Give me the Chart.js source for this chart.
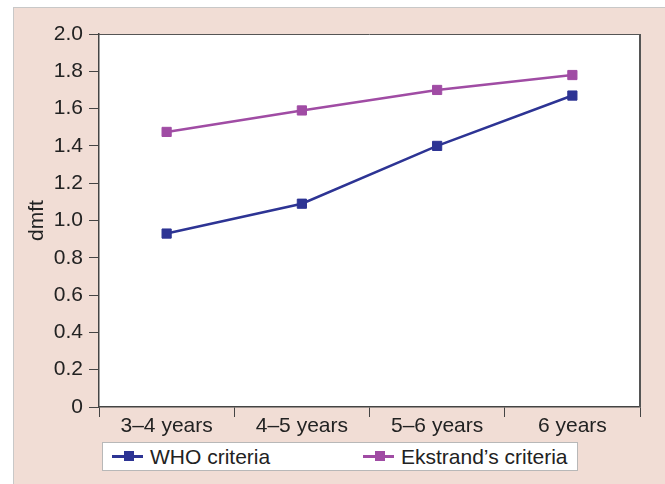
<!DOCTYPE html>
<html>
<head>
<meta charset="utf-8">
<script src="https://cdn.jsdelivr.net/npm/chart.js@4"></script>
<style>
  body { margin: 0; background: #fff; }
  #wrap { position: relative; width: 665px; height: 484px; overflow: hidden; }
  #frame { position: absolute; left: 13px; top: 7px; right: 0; bottom: 0;
           background: #f1ddd5; border-left: 1px solid #c8c8c8; border-top: 1px solid #c8c8c8; }
  #chart-box { position: absolute; left: 0; top: 0; width: 665px; height: 484px; }
  #legend { position: absolute; left: 102px; top: 442px; width: 474px; height: 27px;
            background: #fff; border: 1px solid #b8b8b8; font-family: "Liberation Sans", Arial, sans-serif;
            font-size: 21px; color: #222; }
  .item { position: absolute; top: 0; height: 27px; line-height: 27px; white-space: nowrap; }
  .icon { position: absolute; top: 12px; width: 31px; height: 3px; }
  .icon i { position: absolute; left: 12px; top: -4px; width: 10px; height: 10px; }
  .item span { position: absolute; left: 38px; top: 0; }
</style>
</head>
<body>
<div id="wrap">
  <div id="frame"></div>
  <div id="chart-box"><canvas id="dmftChart" width="665" height="484"></canvas></div>
  <div id="legend"></div>
</div>
<script>
// data
const categories = ["3\u20134 years", "4\u20135 years", "5\u20136 years", "6 years"];
const whoValues = [0.93, 1.09, 1.40, 1.67];
const ekstrandValues = [1.475, 1.59, 1.70, 1.78];
const seriesLabels = ["WHO criteria", "Ekstrand\u2019s criteria"];
const seriesColors = ["#2d3494", "#a04ca4"];
const yTicks = [0, 0.2, 0.4, 0.6, 0.8, 1.0, 1.2, 1.4, 1.6, 1.8, 2.0];

const FONT = "'Liberation Sans', Arial, sans-serif";
const AXIS = "#444";

// white plot area + top/right frame
const plotFrame = {
    id: "plotFrame",
    beforeDraw(chart) {
        const a = chart.chartArea, ctx = chart.ctx;
        ctx.save();
        ctx.fillStyle = "#fff";
        ctx.fillRect(a.left, a.top, a.right - a.left, a.bottom - a.top);
        ctx.restore();
    },
    afterDraw(chart) {
        const a = chart.chartArea, ctx = chart.ctx;
        ctx.save();
        ctx.strokeStyle = "#555";
        ctx.lineWidth = 1;
        ctx.beginPath();
        ctx.moveTo(a.left, a.top + 0.5);
        ctx.lineTo(a.right, a.top + 0.5);
        ctx.stroke();
        ctx.lineWidth = 2;
        ctx.beginPath();
        ctx.moveTo(a.right, a.top);
        ctx.lineTo(a.right, a.bottom);
        ctx.stroke();
        ctx.restore();
    }
};

function makeDataset(label, data, color) {
    return {
        label,
        data,
        borderColor: color,
        backgroundColor: color,
        borderWidth: 2.5,
        pointStyle: "rect",
        pointRadius: 6.5,
        pointBorderWidth: 1,
        pointBorderColor: color,
        tension: 0
    };
}

const dmftChart = new Chart(document.getElementById("dmftChart"), {
    type: "line",
    data: {
        labels: categories,
        datasets: [
            makeDataset(seriesLabels[0], whoValues, seriesColors[0]),
            makeDataset(seriesLabels[1], ekstrandValues, seriesColors[1])
        ]
    },
    options: {
        responsive: false,
        animation: false,
        layout: { padding: { left: 0, top: 34, right: 25, bottom: 47 } },
        plugins: { legend: { display: false }, tooltip: { enabled: false } },
        scales: {
            x: {
                offset: true,
                grid: { offset: true, drawOnChartArea: false, tickLength: 10, color: AXIS },
                border: { color: AXIS, width: 1.5 },
                ticks: { color: "#222", font: { family: FONT, size: 21 }, padding: -3, maxRotation: 0 },
                afterFit(scale) { scale.height = 30; }
            },
            y: {
                min: 0,
                max: 2.0,
                afterBuildTicks(scale) { scale.ticks = yTicks.map(v => ({ value: v })); },
                grid: { drawOnChartArea: false, tickLength: 10, color: AXIS },
                border: { color: AXIS, width: 1.5 },
                ticks: {
                    color: "#222",
                    font: { family: FONT, size: 21 },
                    padding: 6,
                    callback: v => v === 0 ? "0" : v.toFixed(1)
                },
                title: {
                    display: true,
                    text: "dmft",
                    color: "#222",
                    font: { family: FONT, size: 21 },
                    padding: { top: 25, bottom: 0 }
                },
                afterFit(scale) { scale.width = 99; }
            }
        }
    },
    plugins: [plotFrame]
});

// legend drawn as html from the dataset labels/colours
const legendEl = document.getElementById("legend");
const legendLefts = [9, 260];
seriesLabels.forEach((label, i) => {
    const item = document.createElement("div");
    item.className = "item";
    item.style.left = legendLefts[i] + "px";
    item.innerHTML = `<div class="icon" style="background:${seriesColors[i]}"><i style="background:${seriesColors[i]}"></i></div><span>${label}</span>`;
    legendEl.appendChild(item);
});
</script>
</body>
</html>
